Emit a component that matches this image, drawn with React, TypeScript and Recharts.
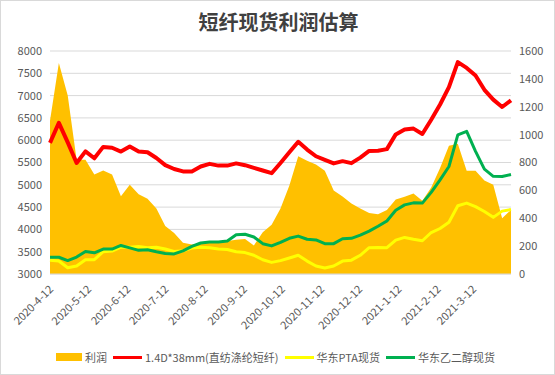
import {
  ComposedChart,
  Area,
  Line,
  XAxis,
  YAxis,
  CartesianGrid,
} from "recharts";

// weekly sample dates
const dates = [
  "2020-4-12", "2020-4-19", "2020-4-26", "2020-5-3", "2020-5-10", "2020-5-17", "2020-5-24", "2020-5-31",
  "2020-6-7", "2020-6-14", "2020-6-21", "2020-6-28", "2020-7-5", "2020-7-12", "2020-7-19", "2020-7-26",
  "2020-8-2", "2020-8-9", "2020-8-16", "2020-8-23", "2020-8-30", "2020-9-6", "2020-9-13", "2020-9-20",
  "2020-9-27", "2020-10-4", "2020-10-11", "2020-10-18", "2020-10-25", "2020-11-1", "2020-11-8", "2020-11-15",
  "2020-11-22", "2020-11-29", "2020-12-6", "2020-12-13", "2020-12-20", "2020-12-27", "2021-1-3", "2021-1-10",
  "2021-1-17", "2021-1-24", "2021-1-31", "2021-2-7", "2021-2-14", "2021-2-21", "2021-2-28", "2021-3-7",
  "2021-3-14", "2021-3-21", "2021-3-28", "2021-4-4", "2021-4-11",
];

// 利润 (right axis)
const profit = [
  1100, 1514, 1280, 820, 820, 714, 742, 714, 558, 640, 572, 540, 470, 344, 295, 224,
  212, 218, 225, 230, 236, 245, 252, 205, 300, 354, 470, 635, 845, 812, 785, 740,
  600, 556, 505, 470, 438, 428, 460, 535, 555, 578, 525, 620, 760, 920, 935, 740,
  740, 670, 640, 400, 460,
];

// 1.4D*38mm(直纺涤纶短纤)
const psf = [
  5940, 6390, 5950, 5490, 5750, 5595, 5850, 5830, 5745, 5860, 5745, 5730, 5600, 5440, 5355, 5300,
  5300, 5410, 5470, 5430, 5430, 5480, 5440, 5380, 5320, 5260, 5490, 5730, 5965, 5790, 5640, 5560,
  5480, 5530, 5485, 5610, 5760, 5765, 5800, 6130, 6240, 6260, 6140, 6460, 6800, 7190, 7750, 7620,
  7450, 7130, 6910, 6745, 6895,
];

// 华东PTA现货
const pta = [
  3310, 3290, 3140, 3180, 3320, 3320, 3500, 3515, 3600, 3600, 3615, 3590, 3600, 3560, 3505, 3520,
  3580, 3600, 3590, 3560, 3550, 3500, 3480, 3420, 3320, 3260, 3300, 3360, 3420, 3290, 3180, 3135,
  3180, 3290, 3310, 3420, 3590, 3595, 3590, 3760, 3820, 3780, 3745, 3930, 4020, 4160, 4530, 4590,
  4510, 4400, 4270, 4410, 4445,
];

// 华东乙二醇现货
const meg = [
  3375, 3375, 3300, 3380, 3505, 3475, 3560, 3560, 3640, 3585, 3530, 3545, 3500, 3460, 3450, 3520,
  3620, 3695, 3715, 3720, 3740, 3880, 3890, 3830, 3680, 3630, 3710, 3800, 3850, 3780, 3765, 3680,
  3680, 3790, 3800, 3870, 3960, 4070, 4190, 4430, 4550, 4595, 4590, 4830, 5110, 5410, 6120, 6200,
  5750, 5350, 5190, 5185, 5230,
];

const tickLabels = [
  "2020-4-12", "2020-5-12", "2020-6-12", "2020-7-12", "2020-8-12", "2020-9-12",
  "2020-10-12", "2020-11-12", "2020-12-12", "2021-1-12", "2021-2-12", "2021-3-12",
];

const leftTicks = [3000, 3500, 4000, 4500, 5000, 5500, 6000, 6500, 7000, 7500, 8000];
const rightTicks = [0, 200, 400, 600, 800, 1000, 1200, 1400, 1600];

const dayOf = (s: string) => {
  const [y, m, d] = s.split("-").map(Number);
  return Math.round((Date.UTC(y, m - 1, d) - Date.UTC(2020, 3, 12)) / 86400000);
};

const data = dates.map((d, i) => ({
  t: dayOf(d),
  profit: profit[i],
  psf: psf[i],
  pta: pta[i],
  meg: meg[i],
}));

const xTicks = tickLabels.map(dayOf);
const labelOf: Record<number, string> = {};
tickLabels.forEach((s) => (labelOf[dayOf(s)] = s));

const font = "'Noto Sans CJK SC', 'Microsoft YaHei', sans-serif";
const textColor = "#595959";

const DateTick = (props: any) => {
  const { x, y, payload } = props;
  const tx = x + 4;
  const ty = y + 16;
  return (
    <text
      x={tx}
      y={ty}
      textAnchor="end"
      fill={textColor}
      fontSize={11}
      fontFamily={font}
      transform={`rotate(-45, ${tx}, ${ty})`}
    >
      {labelOf[payload.value]}
    </text>
  );
};

const legendItems = [
  { name: "利润", color: "#FFC000", kind: "box" },
  { name: "1.4D*38mm(直纺涤纶短纤)", color: "#FF0000", kind: "line" },
  { name: "华东PTA现货", color: "#FFFF00", kind: "line" },
  { name: "华东乙二醇现货", color: "#00B050", kind: "line" },
];

export default function App() {
  return (
    <div
      style={{
        position: "absolute",
        left: 0,
        top: 0,
        width: 555,
        height: 375,
        background: "#fff",
        boxSizing: "border-box",
        border: "1px solid #d9d9d9",
        fontFamily: font,
      }}
    >
      <div
        style={{
          position: "absolute",
          top: 6,
          left: 0,
          width: 555,
          textAlign: "center",
          fontSize: 20,
          fontWeight: "bold",
          color: "#404040",
        }}
      >
        短纤现货利润估算
      </div>
      <div style={{ position: "absolute", left: -1, top: -1 }}>
        <ComposedChart
          width={555}
          height={375}
          data={data}
          margin={{ top: 51, right: 0, left: 0, bottom: 0 }}
        >
          <CartesianGrid yAxisId="left" vertical={false} stroke="#d9d9d9" />
          <XAxis
            dataKey="t"
            type="number"
            domain={[0, 364]}
            ticks={xTicks}
            interval={0}
            tick={DateTick}
            tickLine={false}
            tickSize={0}
            tickMargin={0}
            height={101}
            axisLine={{ stroke: "#d9d9d9" }}
          />
          <YAxis
            yAxisId="left"
            domain={[3000, 8000]}
            ticks={leftTicks}
            interval={0}
            width={50}
            axisLine={false}
            tickLine={false}
            tickSize={0}
            tickMargin={8}
            tick={{ fill: textColor, fontSize: 11, fontFamily: font }}
          />
          <YAxis
            yAxisId="right"
            orientation="right"
            domain={[0, 1600]}
            ticks={rightTicks}
            interval={0}
            width={44}
            axisLine={false}
            tickLine={false}
            tickSize={0}
            tickMargin={8}
            tick={{ fill: textColor, fontSize: 11, fontFamily: font, textAnchor: "start" }}
          />
          <Area
            yAxisId="right"
            dataKey="profit"
            type="linear"
            fill="#FFC000"
            fillOpacity={1}
            stroke="none"
            isAnimationActive={false}
          />
          <Line
            yAxisId="left"
            dataKey="psf"
            type="linear"
            stroke="#FF0000"
            strokeWidth={4}
            dot={false}
            strokeLinejoin="round"
            isAnimationActive={false}
          />
          <Line
            yAxisId="left"
            dataKey="pta"
            type="linear"
            stroke="#FFFF00"
            strokeWidth={3}
            dot={false}
            strokeLinejoin="round"
            isAnimationActive={false}
          />
          <Line
            yAxisId="left"
            dataKey="meg"
            type="linear"
            stroke="#00B050"
            strokeWidth={3}
            dot={false}
            strokeLinejoin="round"
            isAnimationActive={false}
          />
        </ComposedChart>
      </div>
      <div
        style={{
          position: "absolute",
          top: 348,
          left: 0,
          width: 555,
          display: "flex",
          justifyContent: "center",
          alignItems: "center",
          fontSize: 11,
          color: textColor,
          lineHeight: "16px",
        }}
      >
        {legendItems.map((it) => (
          <div key={it.name} style={{ display: "flex", alignItems: "center", marginRight: 6 }}>
            <span
              style={{
                display: "inline-block",
                width: it.kind === "box" ? 26 : 29,
                height: it.kind === "box" ? 8 : 3,
                background: it.color,
                marginRight: 3,
              }}
            />
            <span>{it.name}</span>
          </div>
        ))}
      </div>
    </div>
  );
}
